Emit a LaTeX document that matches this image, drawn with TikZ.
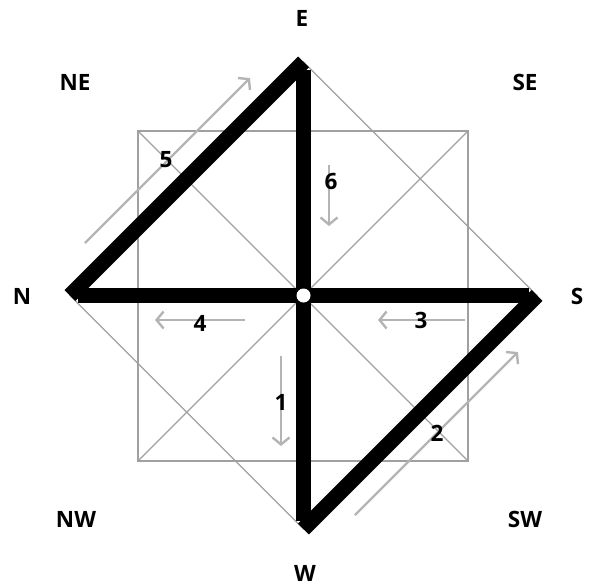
\documentclass[tikz,border=0pt]{standalone}
\usepackage{fontspec}
\setmainfont{Open Sans}
\usetikzlibrary{arrows.meta}
\definecolor{thin}{HTML}{A0A0A0}
\definecolor{arr}{HTML}{B4B4B4}
\tikzset{
  lbl/.style={font=\fontsize{22.5}{26}\selectfont\bfseries, inner sep=0pt},
  thinline/.style={draw=thin, line width=1.3pt},
  thickline/.style={draw=black, line width=15.5pt, line cap=butt},
  garrow/.style={draw=arr, line width=2.4pt, -{Straight Barb[length=7pt,width=17pt,line width=2.4pt]}},
}
\begin{document}
\begin{tikzpicture}[x=1pt,y=-1pt]
\useasboundingbox (0,0) rectangle (591,587);
% key points
\coordinate (C) at (303.5,295.5);
\coordinate (E) at (303.5,62);
\coordinate (N) at (70,295.5);
\coordinate (S) at (537,295.5);
\coordinate (W) at (303.5,529);
\coordinate (Q1) at (138,131);
\coordinate (Q2) at (468,131);
\coordinate (Q3) at (468,461);
\coordinate (Q4) at (138,461);
% thin square and diamond
\draw[thinline] (Q1) -- (Q2) -- (Q3) -- (Q4) -- cycle;
\draw[thinline] (Q1) -- (Q3);
\draw[thinline] (Q2) -- (Q4);
\draw[thinline] (E) -- (S) -- (W) -- (N) -- cycle;
% thick lines
\draw[thickline] (N) -- (E);
\draw[thickline, shorten <=7.7pt] (E) -- (C);
\draw[thickline, shorten >=7.7pt] (C) -- (N);
\draw[thickline, shorten >=7.7pt] (C) -- (S);
\draw[thickline] (S) -- (W);
\draw[thickline, shorten <=7.7pt] (W) -- (C);
\fill[white] (C) circle (7pt);
% arrows
\coordinate (a5s) at (85,243);  \coordinate (a5e) at (250,78);
\coordinate (a6s) at (329,165); \coordinate (a6e) at (329,226);
\coordinate (a3s) at (465,320); \coordinate (a3e) at (378,320);
\coordinate (a4s) at (245,320); \coordinate (a4e) at (155,320);
\coordinate (a1s) at (281,356); \coordinate (a1e) at (281,446);
\coordinate (a2s) at (355,515); \coordinate (a2e) at (518,352);
\draw[garrow] (a5s) -- (a5e);
\draw[garrow] (a6s) -- (a6e);
\draw[garrow] (a3s) -- (a3e);
\draw[garrow] (a4s) -- (a4e);
\draw[garrow] (a1s) -- (a1e);
\draw[garrow] (a2s) -- (a2e);
% labels
\node[lbl] (lE) at (302,18) {E};
\node[lbl] (lNE) at (75,82) {NE};
\node[lbl] (lSE) at (525,82) {SE};
\node[lbl] (lN) at (22,296) {N};
\node[lbl] (lS) at (577,296) {S};
\node[lbl] (lNW) at (76,519) {NW};
\node[lbl] (lSW) at (525,519) {SW};
\node[lbl] (lW) at (305,573) {W};
\node[lbl] (n5) at (166,160) {5};
\node[lbl] (n6) at (331,181) {6};
\node[lbl] (n4) at (200,323) {4};
\node[lbl] (n3) at (421,320) {3};
\node[lbl] (n1) at (281,402) {1};
\node[lbl] (n2) at (437,433) {2};
\end{tikzpicture}
\end{document}
